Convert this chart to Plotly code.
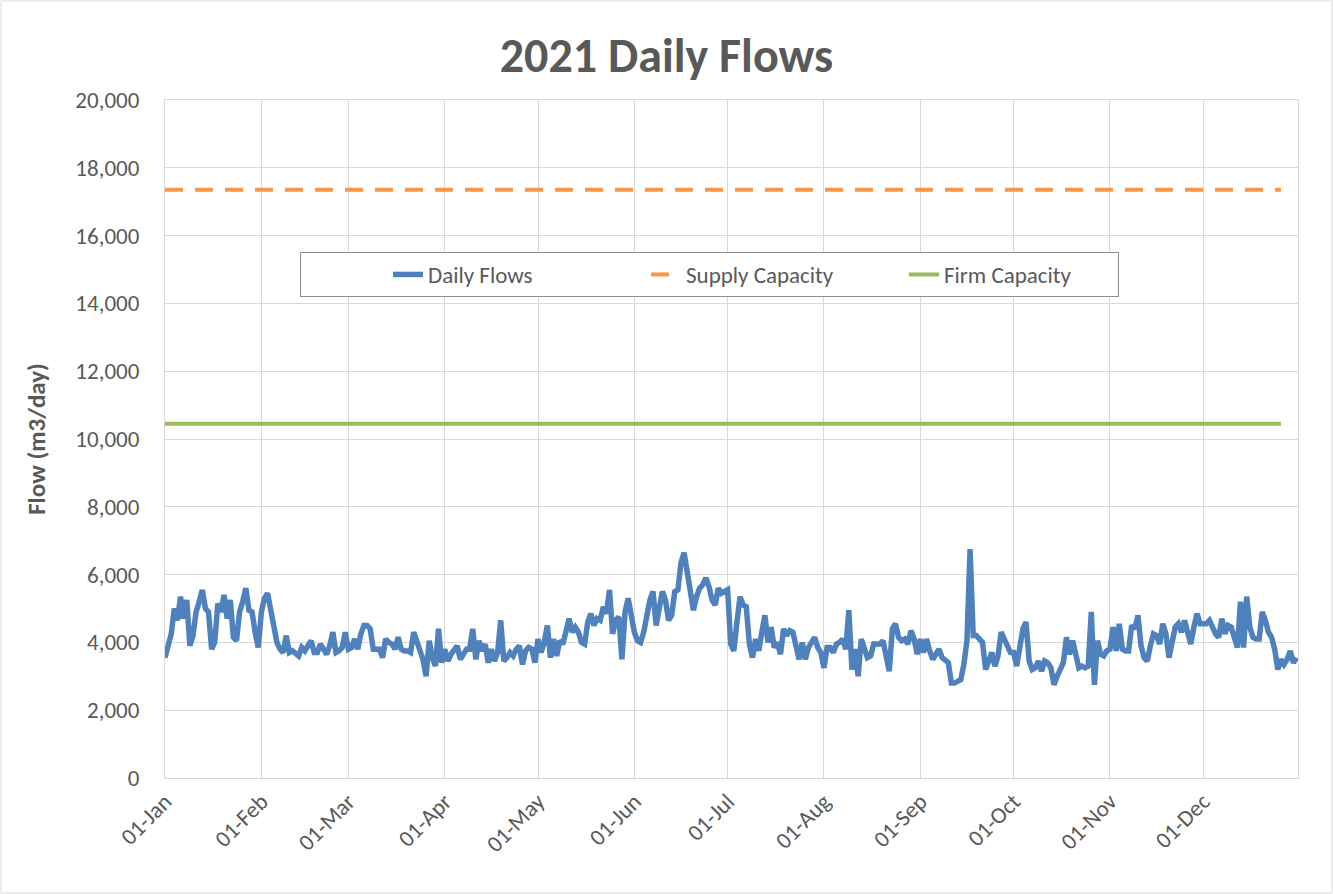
import pandas as pd
import plotly.graph_objects as go

# ---- data (m3/day) ----
JAN = [3550, 3900, 4250, 5000, 4650, 5350, 4700, 5250, 3900, 4200,
       4900, 5200, 5550, 5000, 4900, 3800, 4000, 5150, 4900, 5400,
       4700, 5250, 4150, 4050, 4900, 5200, 5600, 4950, 4900, 4300, 3850]
FEB = [4900, 5300, 5450, 4950, 4500, 4000, 3800, 3700, 4200, 3700,
       3750, 3650, 3600, 3850, 3750, 3900, 4050, 3700, 3700, 3950,
       3800, 3650, 3900, 4300, 3700, 3750, 3850, 4300]
MAR = [3800, 3850, 4100, 3800, 4250, 4500, 4500, 4400, 3800, 3800,
       3800, 3550, 4100, 4000, 3950, 3800, 4150, 3800, 3750, 3750,
       3700, 4300, 4050, 3850, 3500, 3000, 4050, 3550, 3300, 4400, 3400]
APR = [3800, 3450, 3650, 3800, 3900, 3500, 3650, 3800, 3800, 4400,
       3500, 4050, 3750, 3950, 3400, 3800, 3450, 3700, 4650, 3450,
       3550, 3700, 3600, 3800, 3900, 3350, 3750, 3850, 3800, 3400]
MAY = [4100, 3700, 4000, 4500, 3550, 4100, 3600, 4050, 3950, 4300,
       4700, 4300, 4450, 4300, 4000, 3950, 4600, 4850, 4500, 4700,
       4650, 5050, 4850, 5550, 4250, 4650, 4750, 3500, 4900, 5300, 4750]
JUN = [4300, 4050, 4000, 4300, 4800, 5250, 5500, 4500, 5000, 5500,
       5250, 4650, 4800, 5500, 5550, 6350, 6650, 6050, 5400, 4950,
       5350, 5600, 5700, 5900, 5650, 5250, 5100, 5600, 5450, 5500]
JUL = [5550, 3950, 3750, 4600, 5350, 5100, 5050, 3950, 3550, 4100,
       3750, 4300, 4800, 4000, 4450, 3850, 4000, 3650, 4400, 4200,
       4350, 4300, 3800, 3500, 4000, 3500, 3850, 4000, 4150, 3850, 3700]
AUG = [3250, 3850, 3850, 3700, 3950, 4000, 4100, 3800, 4950, 3200,
       3800, 3000, 4100, 3800, 3550, 3600, 3950, 3950, 3950, 4050,
       3550, 3150, 4400, 4550, 4150, 4050, 4100, 3950, 4350, 4100, 3650]
SEP = [4100, 3700, 4100, 3750, 3500, 3650, 3800, 3550, 3450, 3400,
       2800, 2800, 2850, 2900, 3350, 4050, 6750, 4200, 4200, 4100,
       4000, 3200, 3450, 3700, 3300, 3600, 4300, 4050, 3900, 3700]
OCT = [3700, 3300, 3900, 4400, 4600, 3450, 3200, 3250, 3450, 3150,
       3450, 3400, 3250, 2750, 3000, 3200, 3400, 4150, 3650, 4050,
       3700, 3250, 3300, 3250, 3300, 4900, 2750, 4050, 3650, 3600, 3750]
NOV = [3800, 4450, 3750, 4550, 3800, 3750, 3750, 4500, 4400, 4800,
       3900, 3550, 3450, 3900, 4250, 4200, 3950, 4550, 4250, 3550,
       4100, 4450, 4550, 4300, 4650, 4300, 3950, 4450, 4850, 4550]
DEC = [4550, 4550, 4650, 4450, 4250, 4150, 4700, 4250, 4500, 4450,
       4100, 3850, 5200, 3850, 5350, 4450, 4150, 4100, 4100, 4900,
       4650, 4300, 4150, 3800, 3200, 3500, 3350, 3500, 3750, 3400, 3550]

DAILY_FLOWS = JAN + FEB + MAR + APR + MAY + JUN + JUL + AUG + SEP + OCT + NOV + DEC
DATES = pd.date_range("2021-01-01", periods=len(DAILY_FLOWS), freq="D")

SUPPLY_CAPACITY = 17350
FIRM_CAPACITY = 10450
CAPACITY_DATES = ["2021-01-01", "2021-12-26"]

FONT = "Calibri, Carlito, Lato, sans-serif"
GRAY = "#595959"
GRID = "#D9D9D9"

fig = go.Figure()
fig.add_trace(go.Scatter(
    x=DATES, y=DAILY_FLOWS, name="Daily Flows", mode="lines",
    line=dict(color="#4F81BD", width=5.5)))
fig.add_trace(go.Scatter(
    x=CAPACITY_DATES, y=[SUPPLY_CAPACITY] * len(CAPACITY_DATES),
    name="Supply Capacity", mode="lines",
    line=dict(color="#F79646", width=4, dash="18px,12px")))
fig.add_trace(go.Scatter(
    x=CAPACITY_DATES, y=[FIRM_CAPACITY] * len(CAPACITY_DATES),
    name="Firm Capacity", mode="lines",
    line=dict(color="#9BBB59", width=4)))

W, H = 1333, 894
ML, MR, MT, MB = 165, 35, 100, 116
pw, ph = W - ML - MR, H - MT - MB


def px_x(v):
    return (v - ML) / pw


def px_y(v):
    return (H - MB - v) / ph


fig.update_layout(
    width=W, height=H,
    margin=dict(l=ML, r=MR, t=MT, b=MB),
    paper_bgcolor="white", plot_bgcolor="white",
    font=dict(family=FONT, size=23, color=GRAY),
    title=dict(text="<b>2021 Daily Flows</b>", x=0.5, xanchor="center",
               y=1 - 55 / H, yanchor="middle",
               font=dict(family=FONT, size=48, color=GRAY)),
    legend=dict(orientation="h", x=px_x(388), xanchor="left",
                y=px_y(253), yanchor="top",
                bgcolor="rgba(0,0,0,0)", borderwidth=0,
                entrywidth=213, entrywidthmode="pixels",
                font=dict(family=FONT, size=23, color=GRAY)),
    showlegend=True,
    shapes=[
        dict(type="rect", xref="paper", yref="paper",
             x0=-(ML - 1) / pw, x1=1 + (MR - 1) / pw,
             y0=-(MB - 1) / ph, y1=1 + (MT - 1) / ph,
             line=dict(color=GRID, width=1), layer="below"),
        dict(type="rect", xref="paper", yref="paper",
             x0=px_x(300.5), x1=px_x(1118.5), y0=px_y(296.5), y1=px_y(252.5),
             line=dict(color="#8C8C8C", width=1), fillcolor="white",
             layer="above"),
    ],
)

fig.update_xaxes(
    type="date", range=["2021-01-01", "2021-12-31 12:00"],
    tick0="2021-01-01", dtick="M1", tickformat="%d-%b", tickangle=-45,
    showgrid=True, gridcolor=GRID, gridwidth=1,
    showline=True, linecolor=GRID, mirror=True, zeroline=False,
    ticks="", tickfont=dict(family=FONT, size=23, color=GRAY))
fig.update_yaxes(
    range=[0, 20000], dtick=2000, tickformat=",d",
    showgrid=True, gridcolor=GRID, gridwidth=1,
    showline=True, linecolor=GRID, mirror=True, zeroline=False,
    ticks="", ticklabelstandoff=20,
    tickfont=dict(family=FONT, size=23, color=GRAY),
    title=dict(text="<b>Flow (m3/day)</b>", standoff=22,
               font=dict(family=FONT, size=25, color=GRAY)))

fig.write_html("out.html", config={"displayModeBar": False},
               post_script="document.body.style.margin='0';document.body.style.padding='0';")
